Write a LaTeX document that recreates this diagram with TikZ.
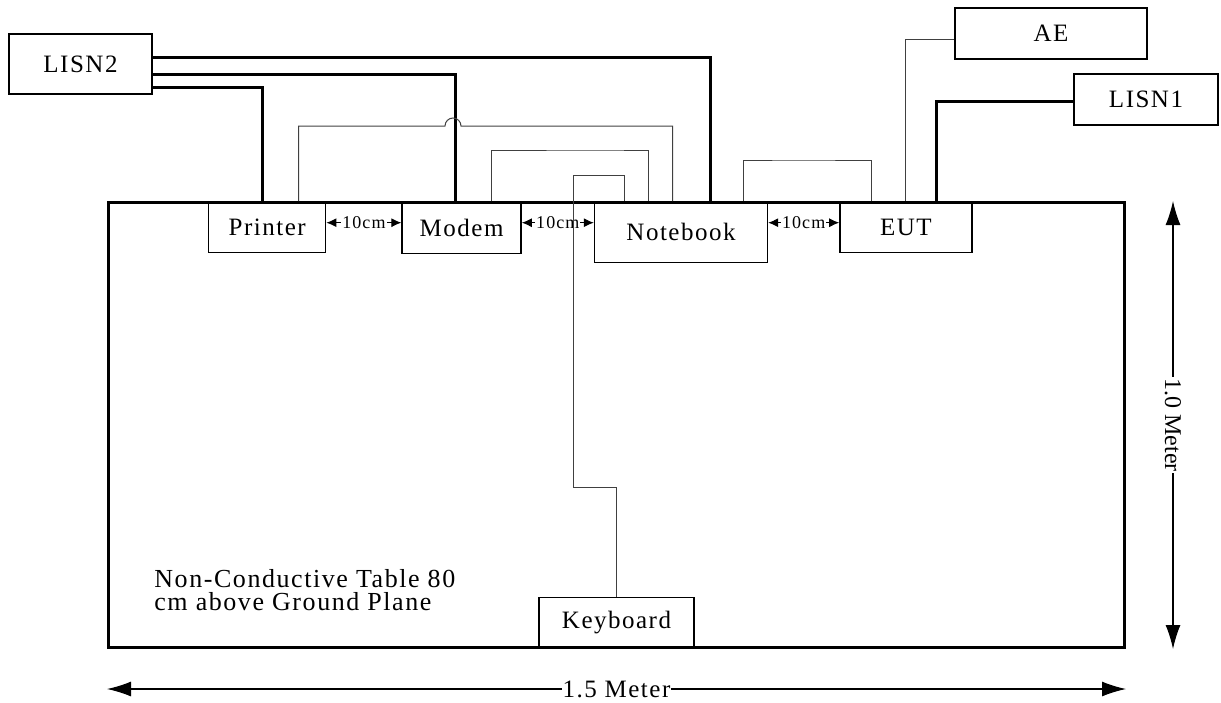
\documentclass[tikz,border=0pt]{standalone}
\usepackage{fontspec}
\setmainfont{Liberation Serif}
\newfontfamily\spaced[LetterSpace=6]{Liberation Serif}
\usetikzlibrary{arrows.meta}
\usetikzlibrary{positioning}
\newcommand{\boxfont}{\spaced\fontsize{12.5}{14}\selectfont}
\newcommand{\gapfont}{\spaced\fontsize{9}{10}\selectfont}
\tikzstyle{unit} = [rectangle, draw, line width=0.7pt, inner sep=0pt,
    minimum height=25.5pt, font=\boxfont]
\tikzstyle{power} = [draw, line width=1.5pt]
\tikzstyle{signal} = [draw, line width=0.5pt, black!75]
\tikzstyle{gap} = [draw, line width=0.5pt,
    {Latex[length=5pt,width=4.5pt]}-{Latex[length=5pt,width=4.5pt]}]
\tikzstyle{dim} = [draw, line width=0.6pt,
    {Latex[length=12pt,width=7.5pt]}-{Latex[length=12pt,width=7.5pt]}]

\begin{document}
\begin{tikzpicture}[x=0.5pt, y=-0.5pt]
    \useasboundingbox (0,0) rectangle (1221,702);
    % Table
    \node [draw, line width=1.5pt, inner sep=0pt, minimum width=508pt,
        minimum height=222.5pt, anchor=north west] (tbl) at (107,201) {};
    \node [anchor=west, align=left, inner sep=0pt, font=\spaced\fontsize{13}{11.5}\selectfont]
        (tbltext) at (154,590) {Non-Conductive Table 80\\cm above Ground Plane};
    % Place units
    \node [unit, minimum width=58.5pt, anchor=north west] (printer)
        at ([xshift=50.5pt]tbl.north west) {Printer};
    \node [unit, minimum width=59.5pt, minimum height=26pt, anchor=north west] (modem)
        at ([xshift=37.5pt]printer.north east) {Modem};
    \node [unit, minimum width=86.5pt, minimum height=30.5pt, anchor=north west] (notebook)
        at ([xshift=36pt]modem.north east) {Notebook};
    \node [unit, minimum width=66pt, anchor=north west] (eut)
        at ([xshift=35.5pt]notebook.north east) {EUT};
    \node [unit, minimum width=77.5pt, anchor=south] (keyboard) at (tbl.south) {Keyboard};
    \node [unit, minimum width=71.5pt, minimum height=30pt] (lisn2) at (80.5,64) {LISN2};
    \node [unit, minimum width=96pt] (ae) at (1051,33.5) {AE};
    \node [unit, minimum width=72pt] (lisn1) at (1146,99.5) {LISN1};
    % Power cords
    \path [power] ([yshift=3.5pt]lisn2.east) -| ([xshift=14.75pt]notebook.north);
    \path [power] ([yshift=-5pt]lisn2.east) -| ([xshift=-3.25pt]modem.north);
    \path [power] ([yshift=-11.5pt]lisn2.east) -| ([xshift=-2.25pt]printer.north);
    \path [power] ([yshift=-0.75pt]lisn1.west) -| ([xshift=15.5pt]eut.north);
    % Signal cables
    \path [signal] ([xshift=15.75pt]printer.north) |- (445,126)
        arc[start angle=180, end angle=0, radius=4pt] -| ([xshift=-4.25pt]notebook.north);
    \path [signal] ([xshift=14.75pt]modem.north) |- (600,150) -| ([xshift=-16.25pt]notebook.north);
    \path [signal] ([xshift=31.25pt]notebook.north) |- (800,160) -| ([xshift=-17pt]eut.north);
    \path [signal] ([yshift=-2.75pt]ae.west) -| (eut.north);
    % Spacing between units
    \path [gap] ([yshift=2.25pt]printer.east) -- ([yshift=2.25pt]printer.east -| modem.west)
        node [midway, fill=white, inner sep=0.5pt, font=\gapfont] {10cm};
    \path [gap] ([yshift=2.5pt]modem.east) -- ([yshift=2.5pt]modem.east -| notebook.west)
        node [midway, fill=white, inner sep=0.5pt, font=\gapfont] {10cm};
    \path [gap] ([yshift=4.75pt]notebook.east) -- ([yshift=4.75pt]notebook.east -| eut.west)
        node [midway, fill=white, inner sep=0.5pt, font=\gapfont] {10cm};
    % Keyboard cable
    \path [signal] ([xshift=-28.25pt]notebook.north) |- (573,175) -- (573,487) -| (keyboard.north);
    % Table size
    \path [dim] ([xshift=23.5pt]tbl.north east) -- ([xshift=23.5pt]tbl.south east)
        node [midway, fill=white, inner sep=0.5pt, rotate=-90, font=\fontsize{12}{14}\selectfont] {1.0 Meter};
    \path [dim] ([yshift=-20pt]tbl.south west) -- ([yshift=-20pt]tbl.south east)
        node [midway, fill=white, inner sep=0.5pt, font=\boxfont] {1.5 Meter};
\end{tikzpicture}
\end{document}
